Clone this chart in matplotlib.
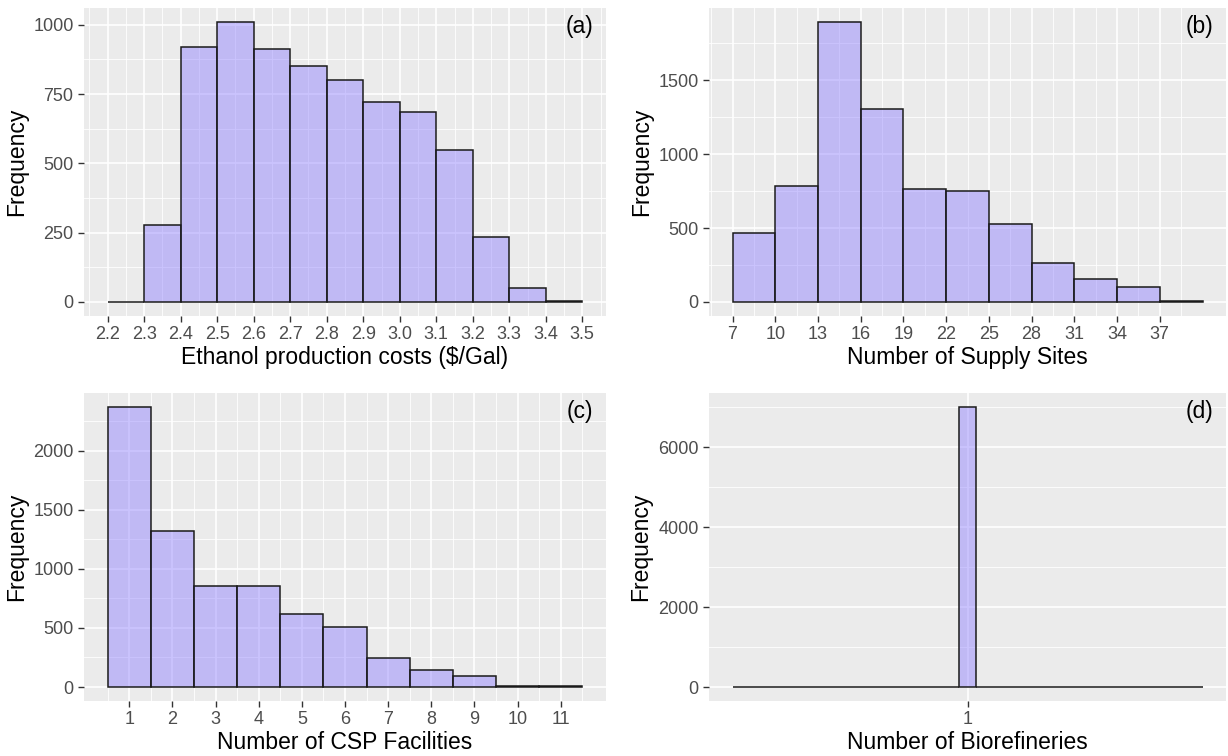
import numpy as np
import matplotlib.pyplot as plt

plt.rcParams['font.family'] = ['Liberation Sans', 'DejaVu Sans']

# (a) ethanol production costs
cost_edges = [2.2, 2.3, 2.4, 2.5, 2.6, 2.7, 2.8, 2.9, 3.0, 3.1, 3.2, 3.3, 3.4, 3.5]
cost_counts = [0, 277, 919, 1010, 911, 852, 802, 720, 687, 548, 236, 51, 5]
cost_ticks = [2.2, 2.3, 2.4, 2.5, 2.6, 2.7, 2.8, 2.9, 3.0, 3.1, 3.2, 3.3, 3.4, 3.5]
cost_yticks = [0, 250, 500, 750, 1000]

# (b) supply sites
sites_edges = [7, 10, 13, 16, 19, 22, 25, 28, 31, 34, 37, 40]
sites_counts = [467, 781, 1892, 1307, 763, 747, 526, 264, 156, 104, 8]
sites_ticks = [7, 10, 13, 16, 19, 22, 25, 28, 31, 34, 37]
sites_yticks = [0, 500, 1000, 1500]

# (c) CSP facilities
csp_edges = [0.5, 1.5, 2.5, 3.5, 4.5, 5.5, 6.5, 7.5, 8.5, 9.5, 10.5, 11.5]
csp_counts = [2372, 1323, 855, 857, 622, 507, 242, 148, 95, 9, 9]
csp_ticks = [1, 2, 3, 4, 5, 6, 7, 8, 9, 10, 11]
csp_yticks = [0, 500, 1000, 1500, 2000]

# (d) biorefineries (29 bins around 1)
bio_counts = [0, 0, 0, 0, 0, 0, 0, 0, 0, 0, 0, 0, 0, 0, 7000,
              0, 0, 0, 0, 0, 0, 0, 0, 0, 0, 0, 0, 0, 0]
bio_range = [0.95, 1.05]
bio_ticks = [1]
bio_yticks = [0, 2000, 4000, 6000]

fill = (0.55, 0.49, 1.0, 0.45)
panel_bg = '#EBEBEB'


def minor_between(ticks, lo, hi):
    t = np.asarray(ticks, dtype=float)
    if len(t) < 2:
        return []
    step = t[1] - t[0]
    m = np.concatenate([[t[0] - step / 2], t[:-1] + np.diff(t) / 2, [t[-1] + step / 2]])
    return [v for v in m if lo <= v <= hi]


def draw_panel(ax, edges, counts, xticks, yticks, xlabel, tag, xminor=True):
    edges = np.asarray(edges, dtype=float)
    counts = np.asarray(counts, dtype=float)
    x0, x1 = edges[0], edges[-1]
    xr = x1 - x0
    xlo, xhi = x0 - 0.05 * xr, x1 + 0.05 * xr
    ymax = counts.max()
    ylo, yhi = -0.05 * ymax, 1.05 * ymax

    ax.set_facecolor(panel_bg)
    for s in ax.spines.values():
        s.set_visible(False)

    # grid
    if xminor:
        for v in minor_between(xticks, xlo, xhi):
            ax.axvline(v, color='white', lw=0.6, zorder=0)
    for v in minor_between(yticks, ylo, yhi):
        ax.axhline(v, color='white', lw=0.6, zorder=0)
    for v in xticks:
        ax.axvline(v, color='white', lw=1.2, zorder=0)
    for v in yticks:
        ax.axhline(v, color='white', lw=1.2, zorder=0)

    ax.bar(edges[:-1], counts, width=np.diff(edges), align='edge',
           color=fill, edgecolor='#1a1a1a', linewidth=1.1, zorder=2)

    ax.set_xlim(xlo, xhi)
    ax.set_ylim(ylo, yhi)
    ax.set_xticks(xticks)
    ax.set_yticks(yticks)
    ax.tick_params(colors='#333333', labelcolor='#4D4D4D', labelsize=13,
                   length=4, width=1.0)
    ax.set_xlabel(xlabel, fontsize=16.5, color='black', labelpad=2)
    ax.set_ylabel('Frequency', fontsize=16.5, color='black', labelpad=4)
    ax.text(0.975, 0.94, tag, transform=ax.transAxes, ha='right', va='center',
            fontsize=16.5, color='black')


fig = plt.figure(figsize=(12.28, 7.56), dpi=100)
W, H = 1228, 756


def add_ax(l, t, r, b):
    return fig.add_axes([l / W, 1 - b / H, (r - l) / W, (b - t) / H])


ax_a = add_ax(84, 8, 606, 316)
ax_b = add_ax(709, 8, 1226, 316)
ax_c = add_ax(84, 393, 606, 701)
ax_d = add_ax(709, 393, 1226, 701)

draw_panel(ax_a, cost_edges, cost_counts, cost_ticks, cost_yticks,
           'Ethanol production costs ($/Gal)', '(a)')
ax_a.set_xticklabels([f'{v:.1f}' for v in cost_ticks])
draw_panel(ax_b, sites_edges, sites_counts, sites_ticks, sites_yticks,
           'Number of Supply Sites', '(b)')
draw_panel(ax_c, csp_edges, csp_counts, csp_ticks, csp_yticks,
           'Number of CSP Facilities', '(c)')
bio_edges = np.linspace(bio_range[0], bio_range[1], len(bio_counts) + 1)
draw_panel(ax_d, bio_edges, bio_counts, bio_ticks, bio_yticks,
           'Number of Biorefineries', '(d)', xminor=False)

fig.savefig('out.png', dpi=100)
